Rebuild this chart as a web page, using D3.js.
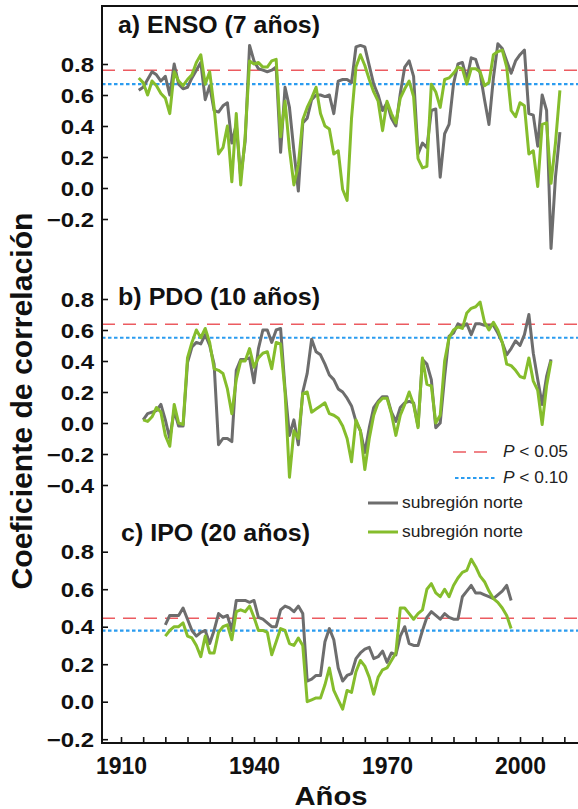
<!DOCTYPE html>
<html><head><meta charset="utf-8">
<script src="https://cdn.jsdelivr.net/npm/d3@7"></script>
<style>body{margin:0;background:#fff}svg{display:block}text{font-family:"Liberation Sans",Arial,sans-serif}</style>
</head><body>
<svg id="c" width="578" height="809"></svg>
<script>
// ---------- data ----------
const yearsA = d3.range(1914, 2010);
const ensoGrey = [0.63,0.65,0.70,0.75,0.73,0.69,0.72,0.60,0.80,0.67,0.64,0.65,0.71,0.76,0.81,0.57,0.66,0.50,0.49,0.53,0.55,0.29,0.41,0.07,0.30,0.92,0.82,0.77,0.76,0.75,0.76,0.78,0.23,0.65,0.52,0.24,-0.02,0.42,0.45,0.57,0.60,0.60,0.59,0.60,0.48,0.69,0.70,0.70,0.68,0.91,0.92,0.91,0.79,0.67,0.60,0.50,0.55,0.45,0.40,0.61,0.78,0.82,0.72,0.22,0.29,0.26,0.50,0.51,0.07,0.35,0.41,0.67,0.80,0.81,0.70,0.84,0.83,0.74,0.57,0.41,0.71,0.93,0.90,0.82,0.74,0.82,0.86,0.89,0.48,0.47,0.27,0.60,0.50,-0.39,0.07,0.36];
const ensoGreen = [0.71,0.68,0.60,0.69,0.66,0.61,0.58,0.48,0.75,0.69,0.66,0.70,0.73,0.81,0.86,0.67,0.75,0.52,0.22,0.26,0.40,0.04,0.48,0.02,0.33,0.82,0.80,0.81,0.78,0.78,0.82,0.83,0.33,0.56,0.25,0.02,0.15,0.44,0.52,0.58,0.65,0.48,0.40,0.38,0.22,0.24,-0.01,-0.08,0.45,0.78,0.86,0.79,0.70,0.62,0.56,0.37,0.56,0.48,0.42,0.58,0.64,0.69,0.59,0.19,0.13,0.14,0.67,0.62,0.52,0.70,0.71,0.74,0.78,0.77,0.67,0.77,0.77,0.75,0.66,0.68,0.86,0.88,0.89,0.78,0.50,0.46,0.55,0.53,0.22,0.24,0.01,0.41,0.42,0.03,0.29,0.63];

const yearsB = d3.range(1915, 2008);
const pdoGrey = [0.02,0.06,0.07,0.08,0.12,0.02,-0.10,0.08,-0.02,-0.02,0.39,0.49,0.52,0.51,0.57,0.50,0.38,-0.14,-0.10,-0.10,-0.12,0.34,0.41,0.41,0.42,0.26,0.48,0.60,0.60,0.52,0.60,0.61,0.22,-0.08,0.02,-0.14,0.20,0.32,0.54,0.46,0.44,0.38,0.31,0.28,0.22,0.20,0.16,0.11,0.01,-0.05,-0.19,-0.03,0.10,0.14,0.17,0.17,0.07,0.01,0.10,0.13,0.14,0.13,-0.02,0.41,0.38,0.28,-0.03,0.00,0.30,0.56,0.58,0.64,0.62,0.64,0.57,0.64,0.64,0.63,0.63,0.63,0.58,0.52,0.44,0.48,0.53,0.50,0.57,0.70,0.45,0.28,0.12,0.30,0.41];
const pdoGreen = [0.02,0.01,0.04,0.10,0.07,-0.08,-0.15,0.12,0.00,-0.01,0.42,0.52,0.60,0.55,0.61,0.52,0.35,0.34,0.32,0.22,0.06,0.28,0.40,0.40,0.48,0.36,0.42,0.45,0.46,0.35,0.52,0.51,0.20,-0.35,-0.05,-0.10,0.19,0.20,0.07,0.09,0.11,0.13,0.06,0.05,0.03,-0.02,-0.10,-0.25,0.02,-0.05,-0.30,-0.10,0.05,0.13,0.16,0.16,0.06,-0.08,0.05,0.12,0.20,0.12,-0.03,0.42,0.25,0.24,0.00,0.05,0.40,0.55,0.60,0.62,0.61,0.71,0.74,0.75,0.78,0.65,0.60,0.65,0.60,0.52,0.38,0.37,0.34,0.30,0.29,0.42,0.27,0.21,-0.01,0.24,0.40];

const yearsC = d3.range(1920, 1999);
const ipoGrey = [0.41,0.46,0.46,0.46,0.50,0.44,0.38,0.35,0.37,0.38,0.31,0.38,0.47,0.45,0.46,0.38,0.54,0.54,0.54,0.53,0.54,0.45,0.44,0.42,0.40,0.40,0.49,0.51,0.50,0.48,0.51,0.47,0.11,0.12,0.14,0.14,0.32,0.39,0.33,0.18,0.11,0.14,0.15,0.23,0.26,0.28,0.29,0.23,0.24,0.27,0.21,0.26,0.25,0.35,0.40,0.31,0.30,0.30,0.38,0.45,0.48,0.46,0.44,0.47,0.45,0.44,0.44,0.56,0.59,0.62,0.58,0.58,0.57,0.56,0.55,0.57,0.59,0.62,0.54];
const ipoGreen = [0.35,0.38,0.40,0.40,0.42,0.35,0.34,0.30,0.24,0.35,0.26,0.26,0.37,0.40,0.41,0.33,0.48,0.49,0.48,0.51,0.45,0.38,0.38,0.37,0.25,0.32,0.39,0.38,0.31,0.30,0.34,0.30,0.00,0.01,0.02,0.02,0.09,0.18,0.06,0.01,-0.04,0.06,0.05,0.16,0.22,0.19,0.13,0.04,0.13,0.17,0.18,0.22,0.26,0.50,0.50,0.47,0.44,0.47,0.49,0.60,0.63,0.58,0.56,0.60,0.56,0.62,0.66,0.69,0.70,0.76,0.72,0.67,0.64,0.59,0.55,0.53,0.50,0.46,0.39];

const panelTitles = ["a) ENSO (7 años)", "b) PDO (10 años)", "c) IPO (20 años)"];
const p05 = [0.76, 0.637, 0.445];
const p10 = [0.67, 0.55, 0.379];
const yTicksA = [-0.2, 0, 0.2, 0.4, 0.6, 0.8];
const yTicksB = [-0.4, -0.2, 0, 0.2, 0.4, 0.6, 0.8];
const yTicksC = [-0.2, 0, 0.2, 0.4, 0.6, 0.8];
const xTicks = d3.range(1910, 2011, 5);
const xLabels = [1910, 1940, 1970, 2000];
const legendLabels = ["P < 0.05", "P < 0.10", "subregión norte", "subregión norte"];

// ---------- drawing ----------
const svg = d3.select("#c");
const GREY = "#6d6d6d", GREEN = "#85bd2c", RED = "#ec5b60", BLUE = "#2b9cf0";
const L = 102, T = 6, B = 743, R = 578;

const x = d3.scaleLinear().domain([1910, 2000]).range([121, 520]);
const panels = [
  {y: d3.scaleLinear().domain([0, 0.8]).range([188, 64]), ticks: yTicksA, years: yearsA, grey: ensoGrey, green: ensoGreen, tx: 118, ty: 33, tw: 202},
  {y: d3.scaleLinear().domain([0, 0.8]).range([423, 299]), ticks: yTicksB, years: yearsB, grey: pdoGrey, green: pdoGreen, tx: 118, ty: 305, tw: 202},
  {y: d3.scaleLinear().domain([0, 0.8]).range([701.7, 551.7]), ticks: yTicksC, years: yearsC, grey: ipoGrey, green: ipoGreen, tx: 121, ty: 541, tw: 189}
];

panels.forEach((p, i) => {
  // reference lines
  svg.append("line").attr("x1", L).attr("x2", R).attr("y1", p.y(p05[i])).attr("y2", p.y(p05[i]))
    .attr("stroke", RED).attr("stroke-width", 1.6).attr("stroke-dasharray", "13,8");
  svg.append("line").attr("x1", L).attr("x2", R).attr("y1", p.y(p10[i])).attr("y2", p.y(p10[i]))
    .attr("stroke", BLUE).attr("stroke-width", 2.2).attr("stroke-dasharray", "3.5,2.5");
  // series
  const line = d3.line().x(d => x(d[0])).y(d => p.y(d[1]));
  svg.append("path").datum(p.years.map((yr, k) => [yr, p.grey[k]]))
    .attr("d", line).attr("fill", "none").attr("stroke", GREY).attr("stroke-width", 3).attr("stroke-linejoin", "round");
  svg.append("path").datum(p.years.map((yr, k) => [yr, p.green[k]]))
    .attr("d", line).attr("fill", "none").attr("stroke", GREEN).attr("stroke-width", 3).attr("stroke-linejoin", "round");
  // y axis
  const g = svg.append("g").attr("transform", `translate(${L},0)`)
    .call(d3.axisLeft(p.y).tickValues(p.ticks).tickSizeInner(-6).tickSizeOuter(0).tickFormat(d3.format(".1f")));
  g.select(".domain").remove();
  g.selectAll(".tick line").attr("stroke", "#111").attr("stroke-width", 1.6);
  g.selectAll(".tick text").attr("x", 0).attr("dy", "0.36em")
    .attr("transform", "translate(-8,0) scale(1.2,1)")
    .attr("font-size", 20).attr("font-weight", "bold").attr("fill", "#111")
    .attr("font-family", "'Liberation Sans', Arial, sans-serif");
  // title
  svg.append("text").attr("x", p.tx).attr("y", p.ty).text(panelTitles[i])
    .attr("font-size", 23).attr("font-weight", "bold").attr("fill", "#111")
    .attr("textLength", p.tw).attr("lengthAdjust", "spacingAndGlyphs");
});

// x axis
const gx = svg.append("g").attr("transform", `translate(0,${B})`)
  .call(d3.axisBottom(x).tickValues(xTicks).tickSizeInner(-6).tickSizeOuter(0)
    .tickFormat(d => xLabels.includes(d) ? String(d) : ""));
gx.select(".domain").remove();
gx.selectAll(".tick line").attr("stroke", "#111").attr("stroke-width", 1.6);
gx.selectAll(".tick text").attr("y", 31).attr("dy", 0)
  .attr("font-size", 23).attr("font-weight", "bold").attr("fill", "#111")
  .attr("font-family", "'Liberation Sans', Arial, sans-serif");

// frame
svg.append("rect").attr("x", L).attr("y", T).attr("width", 600).attr("height", B - T)
  .attr("fill", "none").attr("stroke", "#111").attr("stroke-width", 2);

// axis titles
svg.append("text").attr("transform", "translate(32,401) rotate(-90)").attr("text-anchor", "middle")
  .text("Coeficiente de correlación").attr("font-size", 29).attr("font-weight", "bold").attr("fill", "#111")
  .attr("textLength", 377).attr("lengthAdjust", "spacingAndGlyphs");
svg.append("text").attr("x", 331).attr("y", 805).attr("text-anchor", "middle")
  .text("Años").attr("font-size", 25).attr("font-weight", "bold").attr("fill", "#111")
  .attr("textLength", 73).attr("lengthAdjust", "spacingAndGlyphs");

// legend
const leg = svg.append("g");
leg.append("line").attr("x1", 453).attr("x2", 493).attr("y1", 452).attr("y2", 452)
  .attr("stroke", RED).attr("stroke-width", 1.6).attr("stroke-dasharray", "13,8");
leg.append("line").attr("x1", 455).attr("x2", 497).attr("y1", 478).attr("y2", 478)
  .attr("stroke", BLUE).attr("stroke-width", 2.2).attr("stroke-dasharray", "3.5,2.5");
[[457, 0], [483, 1]].forEach(([yy, k]) => {
  const parts = legendLabels[k].split(" ");
  const t = leg.append("text").attr("x", 503).attr("y", yy).attr("font-size", 16).attr("fill", "#222")
    .attr("textLength", 65).attr("lengthAdjust", "spacingAndGlyphs");
  t.append("tspan").attr("font-style", "italic").text(parts[0]);
  t.append("tspan").text(" " + parts.slice(1).join(" "));
});
leg.append("line").attr("x1", 368).attr("x2", 398).attr("y1", 503).attr("y2", 503).attr("stroke", GREY).attr("stroke-width", 3);
leg.append("text").attr("x", 402).attr("y", 508).text(legendLabels[2]).attr("font-size", 16).attr("fill", "#222")
  .attr("textLength", 121).attr("lengthAdjust", "spacingAndGlyphs");
leg.append("line").attr("x1", 368).attr("x2", 398).attr("y1", 532).attr("y2", 532).attr("stroke", GREEN).attr("stroke-width", 3);
leg.append("text").attr("x", 402).attr("y", 537).text(legendLabels[3]).attr("font-size", 16).attr("fill", "#222")
  .attr("textLength", 121).attr("lengthAdjust", "spacingAndGlyphs");
</script>
</body></html>
